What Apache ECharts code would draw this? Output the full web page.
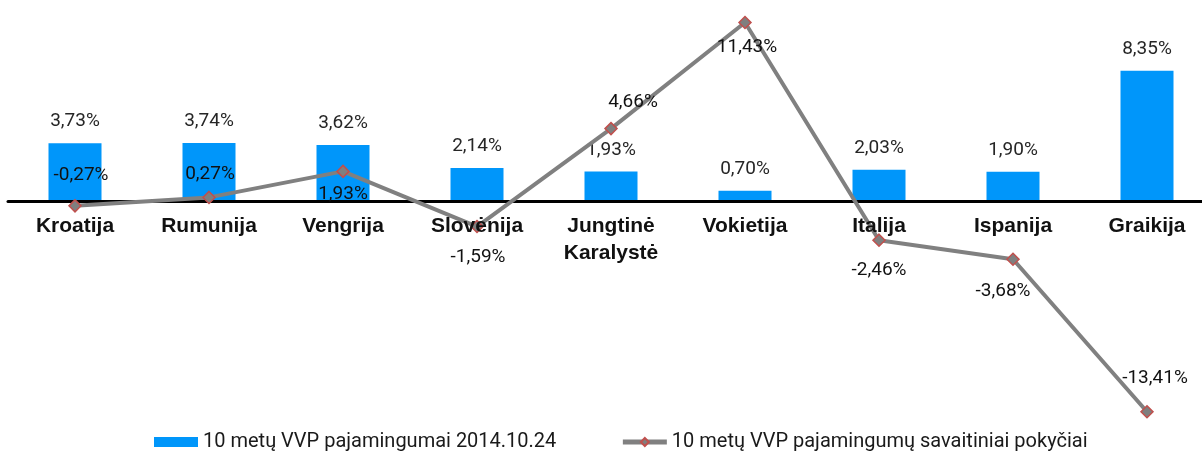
<!DOCTYPE html>
<html>
<head>
<meta charset="utf-8">
<script src="https://cdn.jsdelivr.net/npm/echarts@6/dist/echarts.min.js"></script>
<style>
  html, body { margin: 0; padding: 0; background: #fff; }
  #chart { width: 1202px; height: 455px; }
</style>
</head>
<body>
<div id="chart"></div>
<script>
// kategorijos ir reikšmės
const countries = ['Kroatija', 'Rumunija', 'Vengrija', 'Slovėnija', 'Jungtinė\nKaralystė', 'Vokietija', 'Italija', 'Ispanija', 'Graikija'];
const yields = [3.73, 3.74, 3.62, 2.14, 1.93, 0.70, 2.03, 1.90, 8.35];
const weeklyChange = [-0.27, 0.27, 1.93, -1.59, 4.66, 11.43, -2.46, -3.68, -13.41];
const barName = '10 metų VVP pajamingumai 2014.10.24';
const lineName = '10 metų VVP pajamingumų savaitiniai pokyčiai';

// linijos etikečių išdėstymas: [pozicija, atstumas, x poslinkis]
const lineLabelPlace = [
  ['top', 14, 6], ['top', 7, 1], ['bottom', 7, 0], ['bottom', 14, 1], ['top', 10, 22],
  ['bottom', 8, 2], ['bottom', 14, 0], ['bottom', 16, -10], ['top', 17, 8]
];

const fmt = v => v.toFixed(2).replace('.', ',') + '%';
const labelFont = 'Roboto, "Open Sans", sans-serif';

const chart = echarts.init(document.getElementById('chart'));
chart.setOption({
  backgroundColor: '#fff',
  animation: false,
  grid: { left: 8, width: 1206, top: 5, bottom: 34, containLabel: false, outerBoundsMode: 'none' },
  legend: {
    bottom: -2,
    left: 149,
    itemGap: 64,
    textStyle: { fontSize: 20, color: '#1a1a1a', fontFamily: labelFont },
    data: [
      { name: barName, icon: 'rect', itemStyle: { color: '#0096FA' } },
      { name: lineName, lineStyle: { width: 5, color: '#808080' } }
    ],
    itemWidth: 44,
    itemHeight: 10
  },
  xAxis: [
    {
      // nulinė linija
      type: 'category',
      data: countries,
      axisTick: { show: false },
      axisLine: { onZero: true, lineStyle: { color: '#000', width: 3 } },
      axisLabel: { show: false },
      z: 3
    },
    {
      // šalių pavadinimai virš linijos
      type: 'category',
      data: countries,
      position: 'bottom',
      axisTick: { show: false },
      axisLine: { show: false },
      axisLabel: {
        margin: -208,
        interval: 0,
        color: '#111',
        fontWeight: 'bold',
        fontSize: 21,
        lineHeight: 27,
        fontFamily: '"Liberation Sans", Arial, sans-serif',
        verticalAlign: 'top'
      },
      z: 10
    }
  ],
  yAxis: {
    type: 'value',
    min: -14,
    max: 12.55,
    show: false,
    splitLine: { show: false }
  },
  series: [
    {
      name: barName,
      type: 'bar',
      data: yields,
      barWidth: 53,
      itemStyle: { color: '#0096FA' },
      label: {
        show: true,
        position: 'top',
        distance: 12,
        color: '#262626',
        fontSize: 19,
        fontFamily: labelFont,
        formatter: p => fmt(p.value)
      },
      z: 1
    },
    {
      name: lineName,
      type: 'line',
      data: weeklyChange.map((v, i) => ({
        value: v,
        label: {
          position: lineLabelPlace[i][0],
          distance: lineLabelPlace[i][1],
          offset: [lineLabelPlace[i][2], 0]
        }
      })),
      symbol: 'diamond',
      symbolSize: 12,
      lineStyle: { color: '#808080', width: 4 },
      itemStyle: { color: '#7f7f7f', borderColor: '#C0504D', borderWidth: 1.5 },
      label: {
        show: true,
        color: '#111',
        fontSize: 19,
        fontFamily: labelFont,
        formatter: p => fmt(p.value)
      },
      z: 5
    }
  ]
});
</script>
</body>
</html>
